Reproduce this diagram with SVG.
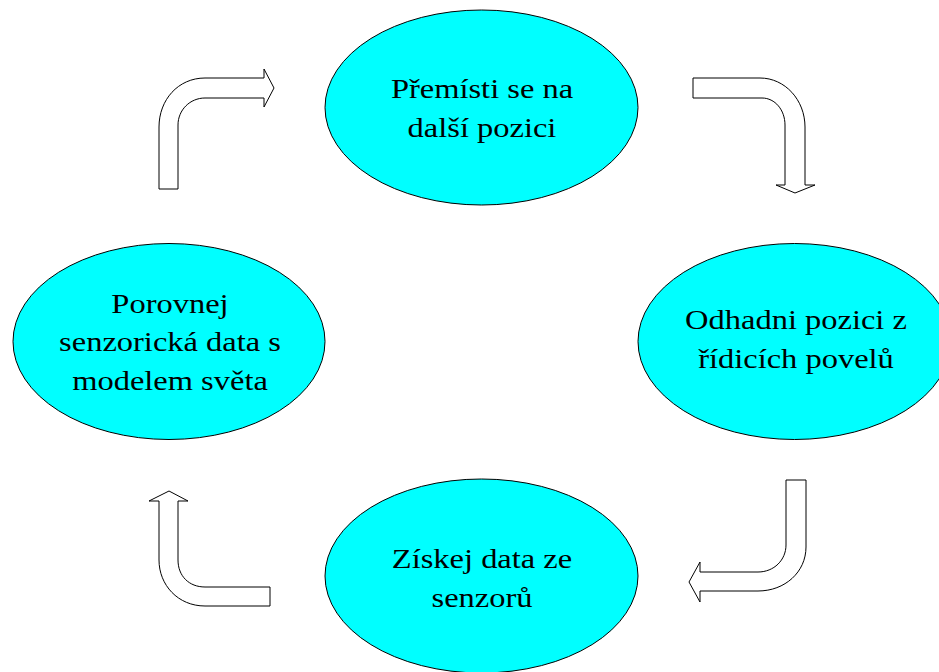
<svg xmlns="http://www.w3.org/2000/svg" width="939" height="672" viewBox="0 0 939 672">
<style>
.node{fill:#00FFFF;stroke:#000;stroke-width:1}
.lbl{font-family:"Liberation Serif","Times New Roman",serif;font-size:28px;fill:#000;text-anchor:middle}
.arr{fill:#fff;stroke:#000;stroke-width:1;stroke-linejoin:miter}
</style>
<rect width="939" height="672" fill="#fff"/>
<g id="connectors">
<path class="arr" d="M159,189 L159,127 C159,100 178,78 205,78 L264,78 L264,69 L274,88 L264,107 L264,98 L205,98 C190,98 178,110 178,125 L178,189 Z"/>
<path class="arr" d="M693,78 L760,78 C785,78 805,100 805,127 L805,185 L815,185 L795,193 L776,185 L785,185 L785,125 C785,110 775,98 762,98 L693,98 Z"/>
<path class="arr" d="M786,480 L806,480 L806,547 C806,572 785,591 758,591 L700,591 L700,602 L689,582 L700,562 L700,572 L758,572 C774,572 786,560 786,545 Z"/>
<path class="arr" d="M159,501 L149,501 L169,491 L188,501 L178,501 L178,560 C178,576 189,587 205,587 L270,587 L270,606 L205,606 C178,606 159,585 159,560 Z"/>
</g>
<g id="node-top">
<ellipse class="node" cx="481.5" cy="107.5" rx="156.5" ry="97.5"/>
<text class="lbl" transform="translate(482,98) scale(1.16,1)">Přemísti se na</text>
<text class="lbl" transform="translate(482,137) scale(1.16,1)">další pozici</text>
</g>
<g id="node-right">
<ellipse class="node" cx="794.5" cy="341.5" rx="156.5" ry="98"/>
<text class="lbl" transform="translate(796,329) scale(1.16,1)">Odhadni pozici z</text>
<text class="lbl" transform="translate(796,368) scale(1.16,1)">řídicích povelů</text>
</g>
<g id="node-bottom">
<ellipse class="node" cx="481.5" cy="576" rx="156.5" ry="97"/>
<text class="lbl" transform="translate(482,568) scale(1.16,1)">Získej data ze</text>
<text class="lbl" transform="translate(482,607) scale(1.16,1)">senzorů</text>
</g>
<g id="node-left">
<ellipse class="node" cx="169" cy="341.5" rx="156" ry="98"/>
<text class="lbl" transform="translate(170,313) scale(1.16,1)">Porovnej</text>
<text class="lbl" transform="translate(170,351) scale(1.16,1)">senzorická data s</text>
<text class="lbl" transform="translate(170,390) scale(1.16,1)">modelem světa</text>
</g>
</svg>
